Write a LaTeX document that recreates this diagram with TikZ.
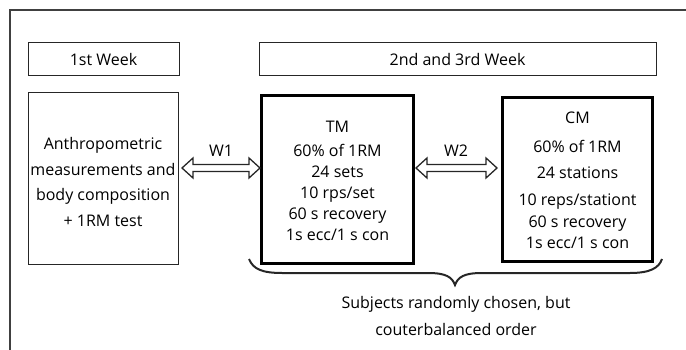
\documentclass[tikz,border=0pt]{standalone}
\usepackage{fontspec}
\setmainfont{Open Sans}
\usetikzlibrary{calc}
\begin{document}
\begin{tikzpicture}[x=1pt,y=-1pt,
  thinbox/.style={draw=black!85, line width=1pt, inner sep=0pt, align=center,
    font=\fontsize{16}{21}\selectfont},
  thickbox/.style={draw=black, line width=2.4pt, inner sep=0pt},
  boxtext/.style={inner sep=0pt, align=center, font=\fontsize{16}{21}\selectfont},
  arrowline/.style={draw=black!85, line width=1.3pt, fill=white, line join=miter},
  lbl/.style={font=\fontsize{16}{21}\selectfont, inner sep=0pt, align=center},
  bracestyle/.style={draw=black!85, line width=2pt}]
\useasboundingbox (0,0) rectangle (686,350);
\draw[line width=1.3pt, black!75] (10,350) -- (10,10) -- (686,10);

\node[thinbox, minimum width=151pt, minimum height=33pt] (wk1) at (103.5,59.5) {1st Week};
\node[thinbox, minimum width=397pt, minimum height=33pt] (wk23) at (457.5,59.5) {2nd and 3rd Week};

\node[thinbox, minimum width=150pt, minimum height=171pt] (anth) at (103,178.5) {};
\node[boxtext] (anthtext) at (103,182)
  {Anthropometric\\[5pt]measurements and\\[4pt]body composition\\[5pt]+ 1RM test};

\node[thickbox, minimum width=152pt, minimum height=168pt] (tm) at (337.5,179.5) {};
\node[boxtext] (tmtext) at (337.5,181)
  {TM\\[3pt]60\% of 1RM\\24 sets\\10 rps/set\\60 s recovery\\1s ecc/1 s con};

\node[thickbox, minimum width=150pt, minimum height=164pt] (cm) at (577.5,179.5) {};
\node[boxtext] (cmtext) at (577.5,180.5)
  {CM\\[8pt]60\% of 1RM\\[5pt]24 stations\\[6pt]10 reps/stationt\\[1pt]60 s recovery\\1s ecc/1 s con};

% W1 double arrow
\coordinate (w1a) at (182,168);
\coordinate (w1b) at (260,168);
\draw[arrowline] (w1a) -- ++(11,-10) -- ++(0,6.5) -- ($(w1b)+(-11,-3.5)$) -- ++(0,-6.5)
  -- (w1b) -- ++(-11,10) -- ++(0,-6.5) -- ($(w1a)+(11,3.5)$) -- ++(0,6.5) -- cycle;
\node[lbl] (w1) at (221,151) {W1};

% W2 double arrow
\coordinate (w2a) at (416,168);
\coordinate (w2b) at (497,168);
\draw[arrowline] (w2a) -- ++(11,-10) -- ++(0,6.5) -- ($(w2b)+(-11,-3.5)$) -- ++(0,-6.5)
  -- (w2b) -- ++(-11,10) -- ++(0,-6.5) -- ($(w2a)+(11,3.5)$) -- ++(0,6.5) -- cycle;
\node[lbl] (w2) at (456,151) {W2};

% brace
\coordinate (bl) at (249,259);
\coordinate (bt) at (455,285);
\coordinate (br) at (662,259);
\draw[bracestyle] (bl) .. controls (253,269) and (262,273) .. (282,273) -- (428,273)
  .. controls (446,273) and (452,277) .. (bt)
  .. controls (458,277) and (464,273) .. (482,273) -- (630,273)
  .. controls (650,273) and (659,268) .. (br);

\node[lbl] (subj) at (456,315.5) {Subjects randomly chosen, but\\[6pt]couterbalanced order};
\end{tikzpicture}
\end{document}
